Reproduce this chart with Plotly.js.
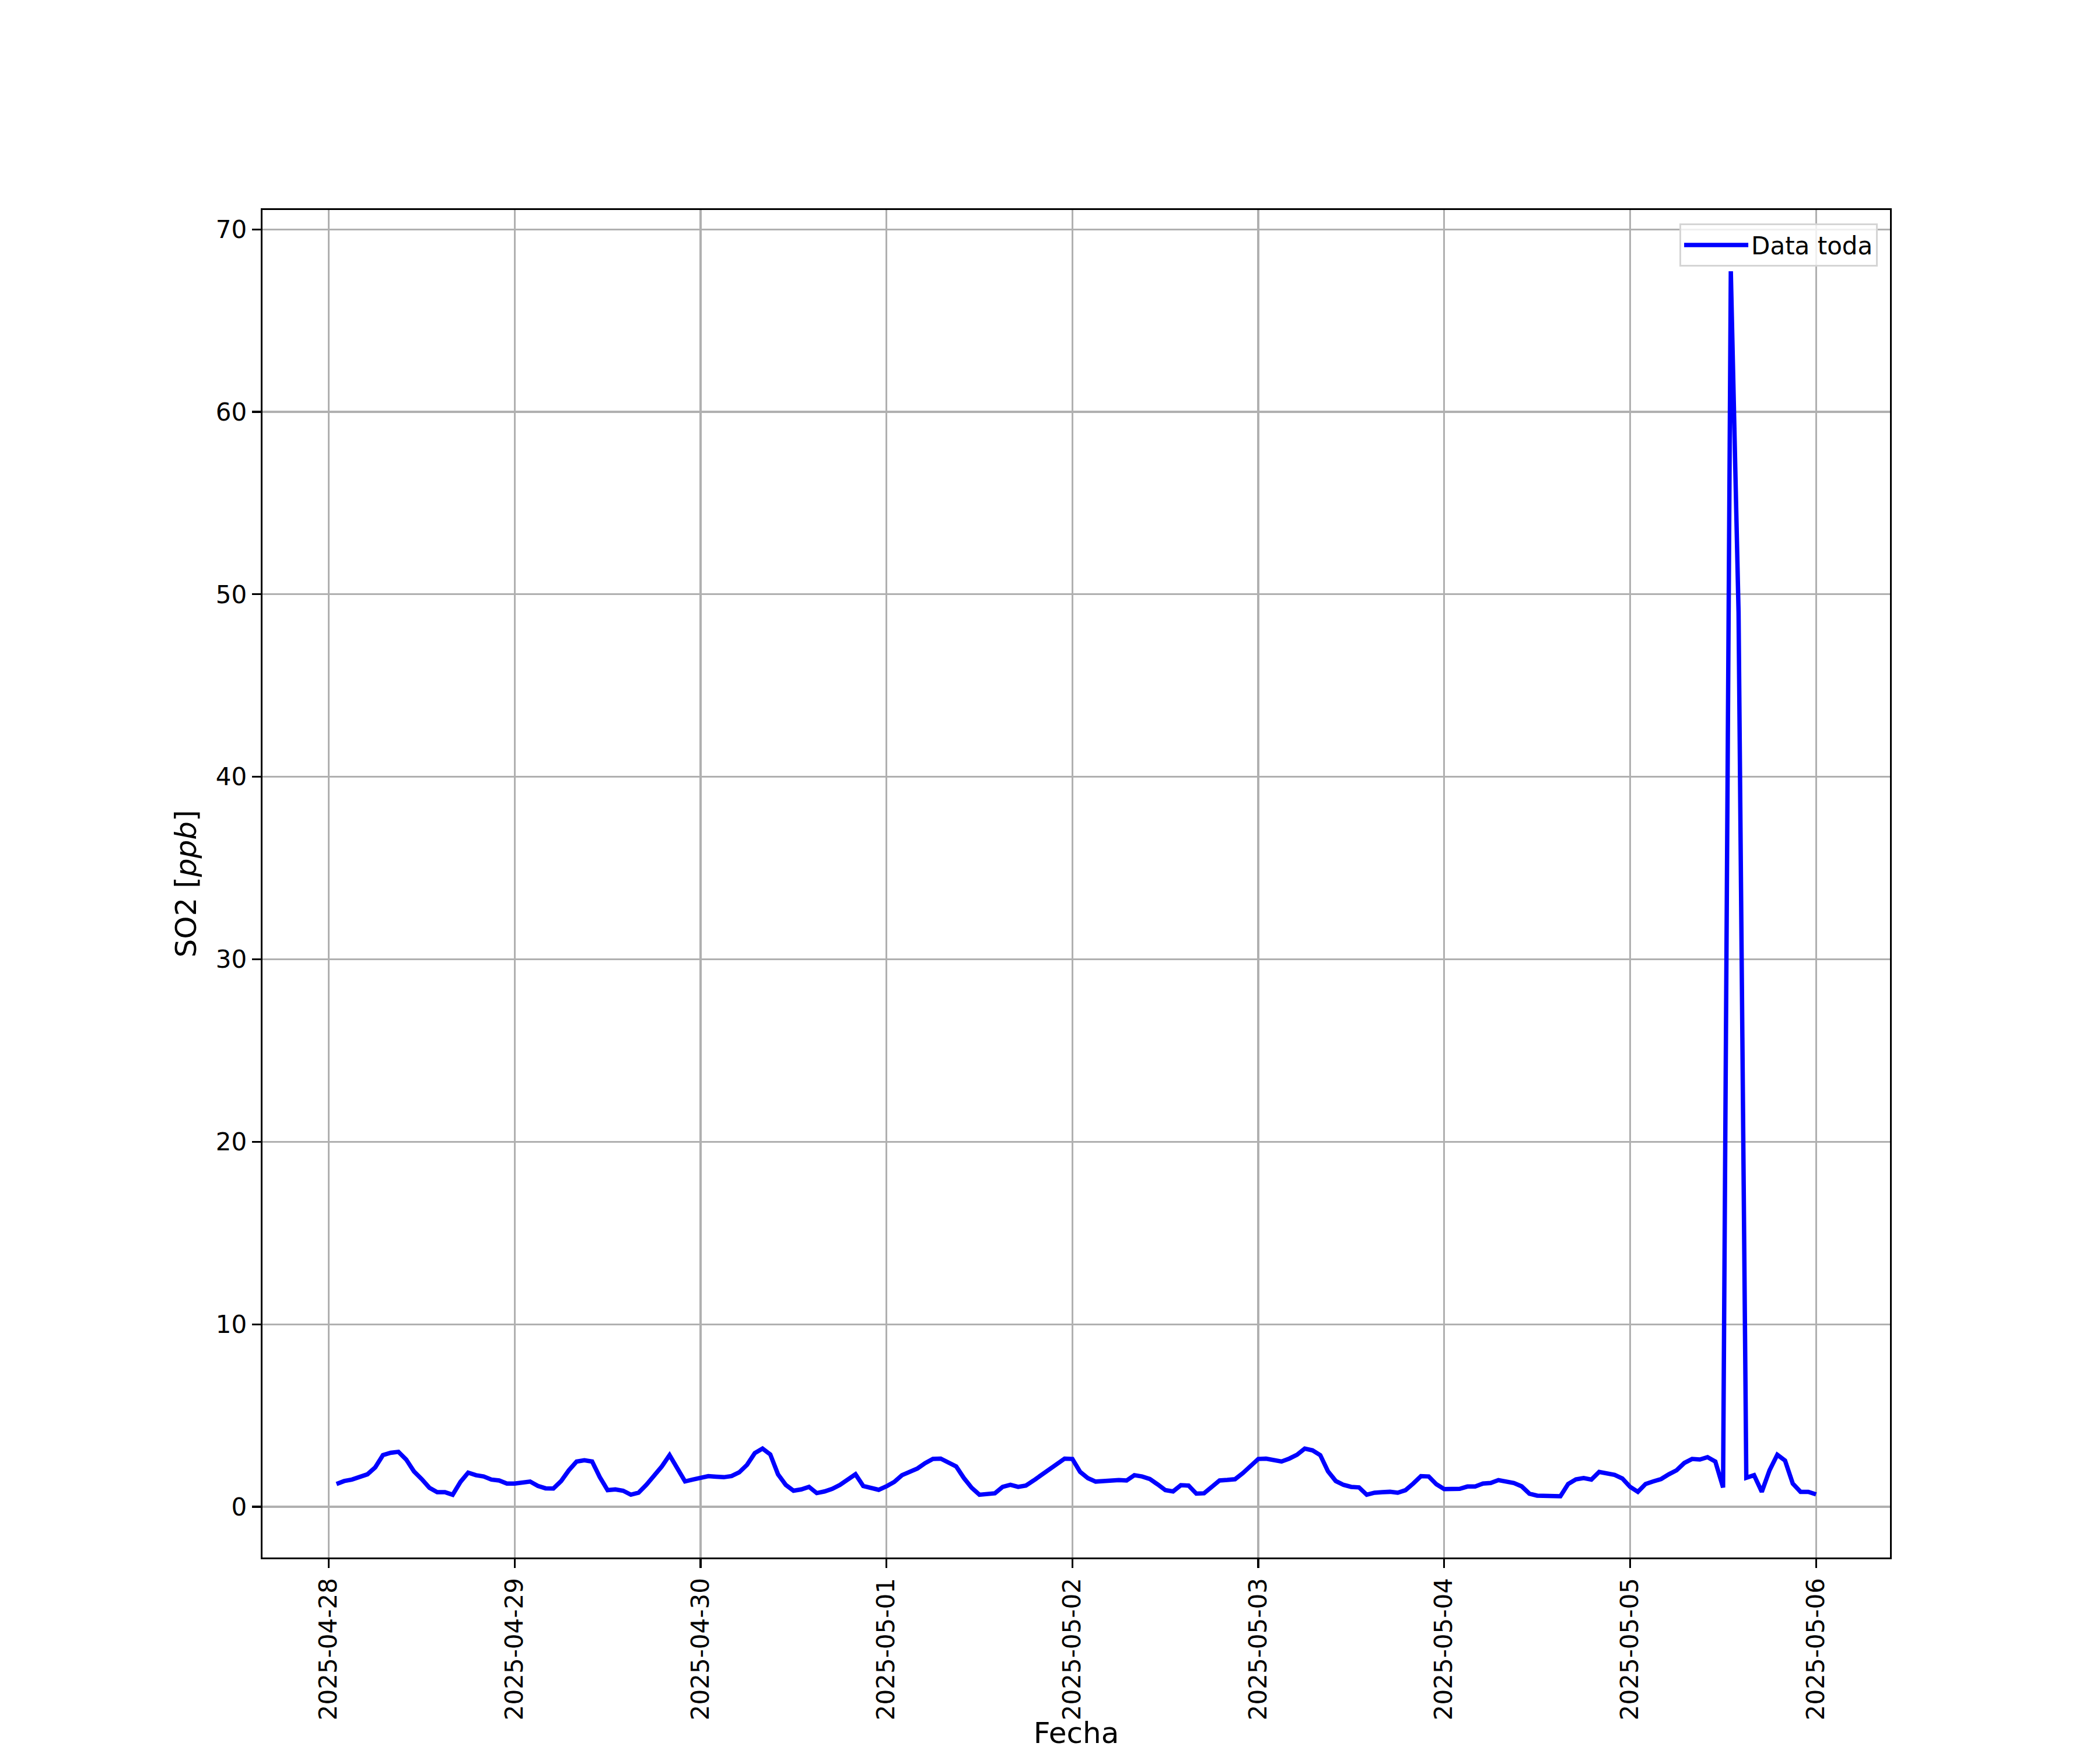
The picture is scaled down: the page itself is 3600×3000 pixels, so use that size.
<!DOCTYPE html>
<html>
<head>
<meta charset="utf-8">
<script src="https://cdn.plot.ly/plotly-3.0.1.min.js"></script>
<style>html,body{margin:0;padding:0;background:#fff;}</style>
</head>
<body>
<div id="chart" style="width:3600px;height:3000px;"></div>
<script>
// Hourly SO2 readings (ppb), one array per day; first day begins at 01:00
const days = ['2025-04-28','2025-04-29','2025-04-30','2025-05-01','2025-05-02','2025-05-03','2025-05-04','2025-05-05','2025-05-06'];
const firstHour = 1;
const d0428 = [1.25,1.41,1.49,1.66,1.78,2.16,2.83,2.96,3.01,2.59,1.94,1.52,1.04,0.80,0.80,0.66,1.36,1.87,1.73,1.66,1.49,1.44,1.27];
const d0429 = [1.27,1.32,1.38,1.14,1.01,1.00,1.41,2.00,2.48,2.55,2.48,1.62,0.91,0.95,0.88,0.66,0.77,1.20,1.70,2.21,2.83,2.10,1.39,1.49];
const d0430 = [1.57,1.68,1.65,1.62,1.68,1.89,2.30,2.94,3.19,2.87,1.78,1.20,0.88,0.95,1.09,0.75,0.84,0.98,1.20,1.49,1.78,1.14,1.04,0.93];
const d0501 = [1.12,1.36,1.73,1.94,2.10,2.39,2.62,2.64,2.43,2.21,1.57,1.04,0.66,0.72,0.74,1.09,1.20,1.09,1.16,1.44,1.73,2.08,2.34,2.64];
const d0502 = [2.62,1.91,1.57,1.38,1.41,1.44,1.46,1.44,1.73,1.66,1.52,1.23,0.91,0.84,1.18,1.16,0.72,0.74,1.06,1.44,1.47,1.51,1.84,2.26];
const d0503 = [2.62,2.64,2.53,2.48,2.64,2.85,3.19,3.09,2.83,1.94,1.41,1.20,1.09,1.06,0.66,0.77,0.80,0.82,0.77,0.91,1.27,1.68,1.66,1.23];
const d0504 = [0.97,0.98,0.98,1.11,1.11,1.27,1.30,1.46,1.38,1.30,1.12,0.72,0.61,0.59,0.59,0.58,1.25,1.50,1.57,1.49,1.91,1.81,1.75,1.55];
const d0505 = [1.09,0.82,1.25,1.39,1.52,1.78,2.00,2.40,2.62,2.59,2.72,2.48,1.06,67.7,49.0,1.59,1.73,0.82,2.00,2.85,2.53,1.27,0.82,0.82];
const d0506 = [0.68];
const seriesName = 'Data toda';
const xTitle = 'Fecha';
const yTitle = 'SO2 [<i>ppb</i>]';

const perDay = [d0428,d0429,d0430,d0501,d0502,d0503,d0504,d0505,d0506];
const x = [], y = [];
perDay.forEach((vals, di) => {
  const start = di === 0 ? firstHour : 0;
  vals.forEach((v, i) => {
    const h = start + i;
    x.push(days[di] + ' ' + String(h).padStart(2,'0') + ':00');
    y.push(v);
  });
});

const font = 'DejaVu Sans, sans-serif';
const trace = {
  type: 'scatter', mode: 'lines', x: x, y: y, name: seriesName,
  line: {color: '#0000ff', width: 7.5},
  showlegend: true
};
const layout = {
  width: 3600, height: 3000,
  paper_bgcolor: '#ffffff', plot_bgcolor: '#ffffff',
  margin: {l: 450, r: 360, t: 360, b: 330, pad: 0},
  font: {family: font, size: 42, color: '#000000'},
  showlegend: true,
  legend: {
    x: 0.9925, y: 0.990, xanchor: 'right', yanchor: 'top',
    bgcolor: 'rgba(255,255,255,0.8)', bordercolor: '#d5d5d5', borderwidth: 3,
    itemwidth: 110, tracegroupgap: 0,
    font: {family: font, size: 42, color: '#000000'}
  },
  xaxis: {
    type: 'date',
    range: ['2025-04-27 15:27', '2025-05-06 09:33'],
    tick0: '2025-04-28', dtick: 86400000, tickformat: '%Y-%m-%d',
    tickangle: -90,
    ticks: 'outside', ticklen: 15, tickwidth: 3.3, tickcolor: '#000000',
    showgrid: true, gridcolor: '#b0b0b0', gridwidth: 3.3,
    showline: true, linecolor: '#000000', linewidth: 3.3, mirror: true,
    zeroline: false,
    tickfont: {family: font, size: 42, color: '#000000'},
    title: {text: xTitle, font: {family: font, size: 50, color: '#000000'}, standoff: 16},
    automargin: false
  },
  yaxis: {
    range: [-2.78, 71.06],
    tick0: 0, dtick: 10,
    ticks: 'outside', ticklen: 15, tickwidth: 3.3, tickcolor: '#000000',
    showgrid: true, gridcolor: '#b0b0b0', gridwidth: 3.3,
    showline: true, linecolor: '#000000', linewidth: 3.3, mirror: true,
    zeroline: false,
    tickfont: {family: font, size: 42, color: '#000000'},
    title: {text: yTitle, font: {family: font, size: 50, color: '#000000'}, standoff: 18},
    automargin: false
  }
};
Plotly.newPlot('chart', [trace], layout, {staticPlot: true, displayModeBar: false});
</script>
</body>
</html>
